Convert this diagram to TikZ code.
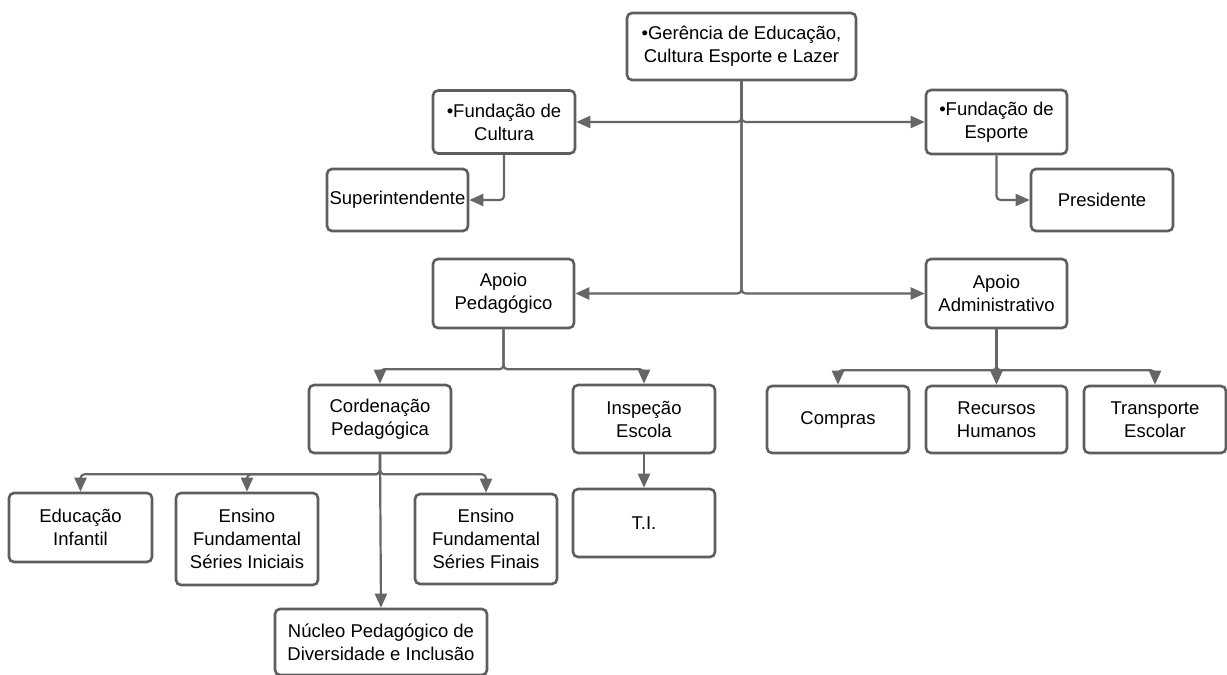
\documentclass[tikz,border=0pt]{standalone}
\usepackage{fontspec}
\setmainfont{Liberation Sans}
\usetikzlibrary{arrows.meta,calc}
\definecolor{boxline}{HTML}{5E5E5E}
\definecolor{conn}{HTML}{666666}
\begin{document}
\begin{tikzpicture}[x=1pt,y=-1pt,
  orgbox/.style={draw=boxline, fill=white, line width=2.6pt, rounded corners=5pt,
    align=center, inner sep=0pt, font=\fontsize{18.5}{23}\selectfont},
  link/.style={draw=conn, line width=2.2pt, rounded corners=4pt,
    -{Triangle[length=14pt,width=12pt]}}]
\useasboundingbox (0,0) rectangle (1227,675);

\node[orgbox, minimum width=229pt, minimum height=67pt] (ger) at (741.5,46.5) {•Gerência de Educação,\\Cultura Esporte e Lazer};
\node[orgbox, minimum width=142pt, minimum height=63pt] (fc) at (504,122) {•Fundação de\\Cultura};
\node[orgbox, minimum width=141pt, minimum height=64pt] (fe) at (996.5,122) {•Fundação de\\Esporte};
\node[orgbox, minimum width=141pt, minimum height=62pt] (sup) at (397.5,200) {Superintendente};
\node[orgbox, minimum width=142pt, minimum height=62pt] (pres) at (1102,200) {Presidente};
\node[orgbox, minimum width=141pt, minimum height=69pt] (ap) at (503.5,293.5) {Apoio\\Pedagógico};
\node[orgbox, minimum width=141pt, minimum height=69pt] (aa) at (996.5,293.5) {Apoio\\Administrativo};
\node[orgbox, minimum width=142pt, minimum height=68pt] (cord) at (380,419) {Cordenação\\Pedagógica};
\node[orgbox, minimum width=142pt, minimum height=68pt] (insp) at (644,419) {Inspeção\\Escola};
\node[orgbox, minimum width=142pt, minimum height=67pt] (comp) at (838,419.5) {Compras};
\node[orgbox, minimum width=141pt, minimum height=67pt] (rh) at (996.5,419.5) {Recursos\\Humanos};
\node[orgbox, minimum width=142pt, minimum height=67pt] (tr) at (1155,419.5) {Transporte\\Escolar};
\node[orgbox, minimum width=143pt, minimum height=69pt] (edu) at (80.5,527.5) {Educação\\Infantil};
\node[orgbox, minimum width=142pt, minimum height=92pt] (efi) at (247,539) {Ensino\\Fundamental\\Séries Iniciais};
\node[orgbox, minimum width=142pt, minimum height=90pt] (eff) at (486,539) {Ensino\\Fundamental\\Séries Finais};
\node[orgbox, minimum width=142pt, minimum height=68pt] (ti) at (644,523) {T.I.};
\node[orgbox, minimum width=212pt, minimum height=66pt] (nuc) at (381,642) {Núcleo Pedagógico de\\Diversidade e Inclusão};

% top level
\draw[link] (ger.south) |- (fc.east);
\draw[link] (ger.south) |- (fe.west);
\draw[link] (ger.south) |- (ap.east);
\draw[link] (ger.south) |- (aa.west);
\draw[link] (fc.south) |- (sup.east);
\draw[link] (fe.south) |- (pres.west);

% apoio pedagogico
\coordinate (apj) at ($(ap.south)+(0,40)$);
\draw[link] (ap.south) -- (apj) -| (cord.north);
\draw[link] (ap.south) -- (apj) -| (insp.north);

% apoio administrativo
\coordinate (aaj) at ($(aa.south)+(0,41)$);
\draw[link] (aa.south) -- (aaj) -| (comp.north);
\draw[link] (aa.south) -- (rh.north);
\draw[link] (aa.south) -- (aaj) -| (tr.north);

% cordenacao
\coordinate (cj) at ($(cord.south)+(0,20)$);
\draw[link] (cord.south) -- (cj) -| (edu.north);
\draw[link] (cord.south) -- (cj) -| (efi.north);
\draw[link] (cord.south) -- (cj) -| (eff.north);
\draw[link] (cord.south) -- (nuc.north);

% inspecao
\draw[link] (insp.south) -- (ti.north);
\end{tikzpicture}
\end{document}
